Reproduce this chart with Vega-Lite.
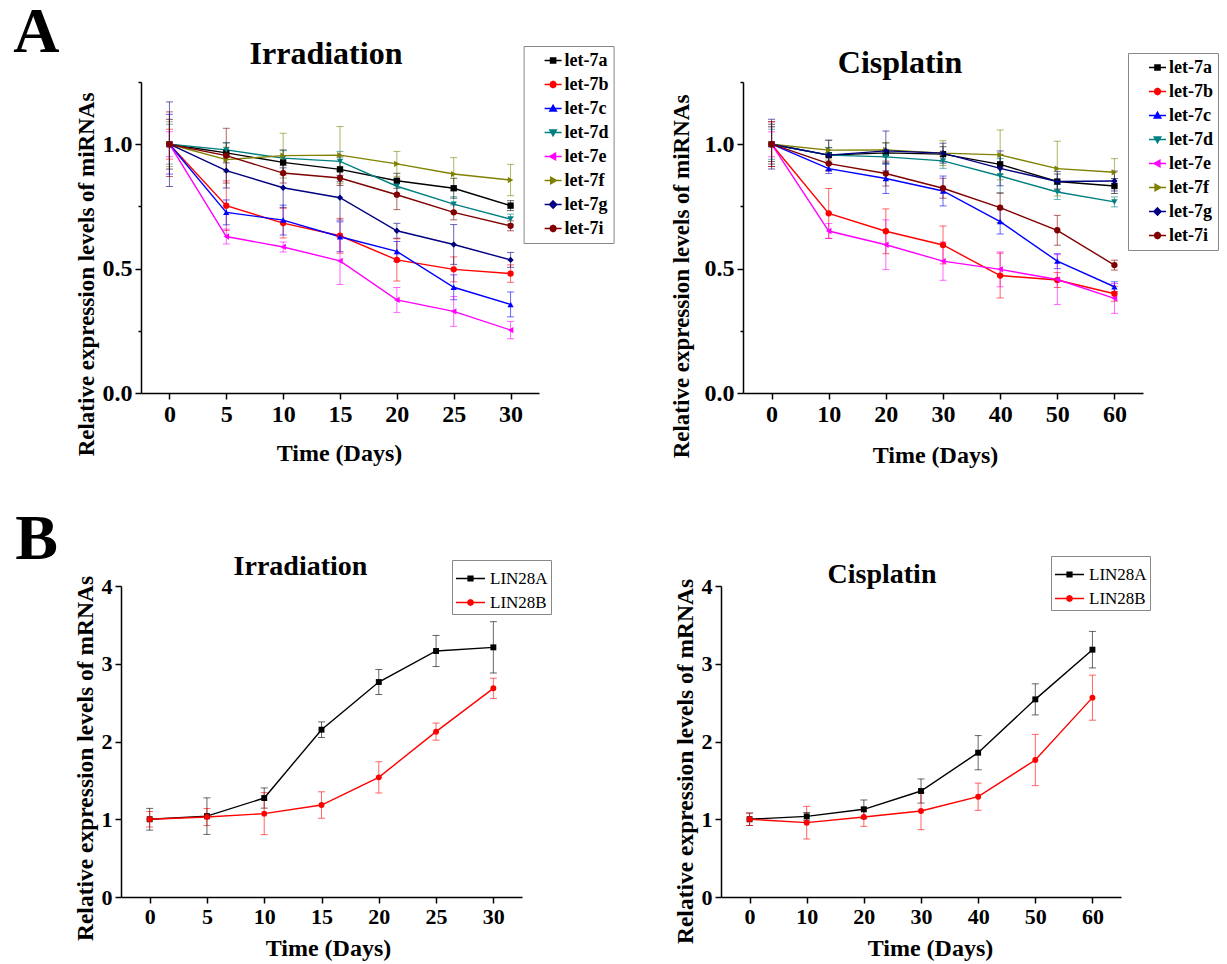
{
"$schema":"https://vega.github.io/schema/vega-lite/v6.json",
"background":"white",
"padding":{"left":13,"top":1,"right":5,"bottom":5},
"datasets":{
"irrMi":[
{"series":"let-7a","day":0,"value":1.0,"err":0.10},{"series":"let-7a","day":5,"value":0.965,"err":0.04},{"series":"let-7a","day":10,"value":0.927,"err":0.05},{"series":"let-7a","day":15,"value":0.899,"err":0.05},{"series":"let-7a","day":20,"value":0.853,"err":0.03},{"series":"let-7a","day":25,"value":0.823,"err":0.04},{"series":"let-7a","day":30,"value":0.753,"err":0.02},
{"series":"let-7b","day":0,"value":1.0,"err":0.06},{"series":"let-7b","day":5,"value":0.753,"err":0.10},{"series":"let-7b","day":10,"value":0.683,"err":0.06},{"series":"let-7b","day":15,"value":0.632,"err":0.07},{"series":"let-7b","day":20,"value":0.535,"err":0.085},{"series":"let-7b","day":25,"value":0.497,"err":0.05},{"series":"let-7b","day":30,"value":0.48,"err":0.035},
{"series":"let-7c","day":0,"value":1.0,"err":0.12},{"series":"let-7c","day":5,"value":0.726,"err":0.05},{"series":"let-7c","day":10,"value":0.695,"err":0.06},{"series":"let-7c","day":15,"value":0.628,"err":0.06},{"series":"let-7c","day":20,"value":0.569,"err":0.04},{"series":"let-7c","day":25,"value":0.425,"err":0.05},{"series":"let-7c","day":30,"value":0.356,"err":0.05},
{"series":"let-7d","day":0,"value":1.0,"err":0.08},{"series":"let-7d","day":5,"value":0.977,"err":0.03},{"series":"let-7d","day":10,"value":0.944,"err":0.03},{"series":"let-7d","day":15,"value":0.931,"err":0.04},{"series":"let-7d","day":20,"value":0.831,"err":0.03},{"series":"let-7d","day":25,"value":0.759,"err":0.03},{"series":"let-7d","day":30,"value":0.699,"err":0.02},
{"series":"let-7e","day":0,"value":1.0,"err":0.05},{"series":"let-7e","day":5,"value":0.629,"err":0.03},{"series":"let-7e","day":10,"value":0.587,"err":0.02},{"series":"let-7e","day":15,"value":0.531,"err":0.095},{"series":"let-7e","day":20,"value":0.374,"err":0.05},{"series":"let-7e","day":25,"value":0.328,"err":0.06},{"series":"let-7e","day":30,"value":0.253,"err":0.035},
{"series":"let-7f","day":0,"value":1.0,"err":0.09},{"series":"let-7f","day":5,"value":0.938,"err":0.05},{"series":"let-7f","day":10,"value":0.954,"err":0.09},{"series":"let-7f","day":15,"value":0.956,"err":0.115},{"series":"let-7f","day":20,"value":0.921,"err":0.05},{"series":"let-7f","day":25,"value":0.88,"err":0.066},{"series":"let-7f","day":30,"value":0.856,"err":0.063},
{"series":"let-7g","day":0,"value":1.0,"err":0.17},{"series":"let-7g","day":5,"value":0.894,"err":0.07},{"series":"let-7g","day":10,"value":0.825,"err":0.08},{"series":"let-7g","day":15,"value":0.785,"err":0.09},{"series":"let-7g","day":20,"value":0.652,"err":0.03},{"series":"let-7g","day":25,"value":0.597,"err":0.08},{"series":"let-7g","day":30,"value":0.535,"err":0.03},
{"series":"let-7i","day":0,"value":1.0,"err":0.13},{"series":"let-7i","day":5,"value":0.954,"err":0.11},{"series":"let-7i","day":10,"value":0.884,"err":0.04},{"series":"let-7i","day":15,"value":0.864,"err":0.03},{"series":"let-7i","day":20,"value":0.797,"err":0.06},{"series":"let-7i","day":25,"value":0.726,"err":0.03},{"series":"let-7i","day":30,"value":0.672,"err":0.02}
],
"cisMi":[
{"series":"let-7a","day":0,"value":1.0,"err":0.08},{"series":"let-7a","day":10,"value":0.956,"err":0.03},{"series":"let-7a","day":20,"value":0.965,"err":0.04},{"series":"let-7a","day":30,"value":0.96,"err":0.03},{"series":"let-7a","day":40,"value":0.919,"err":0.04},{"series":"let-7a","day":50,"value":0.85,"err":0.03},{"series":"let-7a","day":60,"value":0.832,"err":0.03},
{"series":"let-7b","day":0,"value":1.0,"err":0.09},{"series":"let-7b","day":10,"value":0.722,"err":0.10},{"series":"let-7b","day":20,"value":0.65,"err":0.09},{"series":"let-7b","day":30,"value":0.595,"err":0.076},{"series":"let-7b","day":40,"value":0.472,"err":0.09},{"series":"let-7b","day":50,"value":0.454,"err":0.03},{"series":"let-7b","day":60,"value":0.399,"err":0.03},
{"series":"let-7c","day":0,"value":1.0,"err":0.07},{"series":"let-7c","day":10,"value":0.902,"err":0.02},{"series":"let-7c","day":20,"value":0.862,"err":0.06},{"series":"let-7c","day":30,"value":0.812,"err":0.06},{"series":"let-7c","day":40,"value":0.689,"err":0.05},{"series":"let-7c","day":50,"value":0.53,"err":0.03},{"series":"let-7c","day":60,"value":0.427,"err":0.02},
{"series":"let-7d","day":0,"value":1.0,"err":0.06},{"series":"let-7d","day":10,"value":0.956,"err":0.03},{"series":"let-7d","day":20,"value":0.949,"err":0.03},{"series":"let-7d","day":30,"value":0.933,"err":0.03},{"series":"let-7d","day":40,"value":0.872,"err":0.07},{"series":"let-7d","day":50,"value":0.808,"err":0.03},{"series":"let-7d","day":60,"value":0.768,"err":0.02},
{"series":"let-7e","day":0,"value":1.0,"err":0.05},{"series":"let-7e","day":10,"value":0.651,"err":0.03},{"series":"let-7e","day":20,"value":0.596,"err":0.10},{"series":"let-7e","day":30,"value":0.53,"err":0.077},{"series":"let-7e","day":40,"value":0.497,"err":0.07},{"series":"let-7e","day":50,"value":0.456,"err":0.10},{"series":"let-7e","day":60,"value":0.38,"err":0.06},
{"series":"let-7f","day":0,"value":1.0,"err":0.07},{"series":"let-7f","day":10,"value":0.976,"err":0.04},{"series":"let-7f","day":20,"value":0.977,"err":0.03},{"series":"let-7f","day":30,"value":0.964,"err":0.05},{"series":"let-7f","day":40,"value":0.957,"err":0.10},{"series":"let-7f","day":50,"value":0.902,"err":0.11},{"series":"let-7f","day":60,"value":0.887,"err":0.055},
{"series":"let-7g","day":0,"value":1.0,"err":0.10},{"series":"let-7g","day":10,"value":0.956,"err":0.06},{"series":"let-7g","day":20,"value":0.973,"err":0.08},{"series":"let-7g","day":30,"value":0.964,"err":0.04},{"series":"let-7g","day":40,"value":0.903,"err":0.07},{"series":"let-7g","day":50,"value":0.85,"err":0.04},{"series":"let-7g","day":60,"value":0.852,"err":0.04},
{"series":"let-7i","day":0,"value":1.0,"err":0.09},{"series":"let-7i","day":10,"value":0.922,"err":0.03},{"series":"let-7i","day":20,"value":0.882,"err":0.05},{"series":"let-7i","day":30,"value":0.823,"err":0.04},{"series":"let-7i","day":40,"value":0.745,"err":0.06},{"series":"let-7i","day":50,"value":0.654,"err":0.06},{"series":"let-7i","day":60,"value":0.514,"err":0.02}
],
"irrLin":[
{"series":"LIN28A","day":0,"value":1.0,"err":0.14},{"series":"LIN28A","day":5,"value":1.04,"err":0.235},{"series":"LIN28A","day":10,"value":1.273,"err":0.13},{"series":"LIN28A","day":15,"value":2.152,"err":0.1},{"series":"LIN28A","day":20,"value":2.765,"err":0.16},{"series":"LIN28A","day":25,"value":3.164,"err":0.2},{"series":"LIN28A","day":30,"value":3.211,"err":0.33},
{"series":"LIN28B","day":0,"value":1.0,"err":0.1},{"series":"LIN28B","day":5,"value":1.029,"err":0.11},{"series":"LIN28B","day":10,"value":1.072,"err":0.27},{"series":"LIN28B","day":15,"value":1.183,"err":0.17},{"series":"LIN28B","day":20,"value":1.539,"err":0.2},{"series":"LIN28B","day":25,"value":2.127,"err":0.11},{"series":"LIN28B","day":30,"value":2.684,"err":0.13}
],
"cisLin":[
{"series":"LIN28A","day":0,"value":1.0,"err":0.08},{"series":"LIN28A","day":10,"value":1.037,"err":0.05},{"series":"LIN28A","day":20,"value":1.128,"err":0.12},{"series":"LIN28A","day":30,"value":1.363,"err":0.155},{"series":"LIN28A","day":40,"value":1.856,"err":0.22},{"series":"LIN28A","day":50,"value":2.542,"err":0.2},{"series":"LIN28A","day":60,"value":3.181,"err":0.235},
{"series":"LIN28B","day":0,"value":1.0,"err":0.08},{"series":"LIN28B","day":10,"value":0.956,"err":0.21},{"series":"LIN28B","day":20,"value":1.029,"err":0.12},{"series":"LIN28B","day":30,"value":1.106,"err":0.24},{"series":"LIN28B","day":40,"value":1.29,"err":0.175},{"series":"LIN28B","day":50,"value":1.762,"err":0.33},{"series":"LIN28B","day":60,"value":2.564,"err":0.29}
]
},
"vconcat":[
{
"title":{"text":"A","fontSize":64,"anchor":"start","frame":"group","dx":-107.7,"dy":78.6,"offset":0,"baseline":"alphabetic"},
"hconcat":[
{
"width":418,"height":311,
"data":{"name":"irrMi"},
"title":{"text":"Irradiation","fontSize":32,"anchor":"middle","frame":"group","dx":-4,"dy":50,"offset":0,"baseline":"alphabetic"},
"layer":[
{"mark":{"type":"errorbar","thickness":1,"rule":{"opacity":0.6},"ticks":{"size":7,"opacity":0.6}},
"encoding":{"x":{"field":"day","type":"quantitative","title":"Time (Days)"},"y":{"field":"value","type":"quantitative","title":"Relative expression levels of miRNAs"},"yError":{"field":"err"},
"color":{"field":"series","type":"nominal","scale":{"domain":["let-7a","let-7b","let-7c","let-7d","let-7e","let-7f","let-7g","let-7i"],"range":["#000000","#ff0000","#0000ff","#008080","#ff00ff","#808000","#000080","#800000"]}}}},
{"mark":{"type":"line","strokeWidth":1.4},
"encoding":{
"x":{"field":"day","type":"quantitative","title":"Time (Days)","scale":{"domain":[-2.5,32.5],"range":[20,418],"nice":false,"zero":false},
"axis":{"values":[0,2.5,5,7.5,10,12.5,15,17.5,20,22.5,25,27.5,30,32.5],"format":".0f","labelExpr":"datum.value % 5 === 0 ? datum.label : ''","tickSize":{"condition":{"test":"datum.value % 5 === 0","value":6},"value":3},"labelFontSize":24,"labelPadding":3,"labelOverlap":false,"titleFontSize":24,"titleX":218,"titleY":60,"titleAlign":"center","titleBaseline":"middle"}},
"y":{"field":"value","type":"quantitative","title":"Relative expression levels of miRNAs","scale":{"domain":[0,1.25],"nice":false,"zero":false},
"axis":{"values":[0,0.25,0.5,0.75,1,1.25],"format":".1f","labelExpr":"datum.value % 0.5 === 0 ? datum.label : ''","tickSize":{"condition":{"test":"datum.value % 0.5 === 0","value":6},"value":3},"labelFontSize":24,"labelPadding":3,"labelOverlap":false,"offset":-20,"titleFontSize":23,"titleAngle":270,"titleX":-55,"titleY":192,"titleAlign":"center","titleBaseline":"middle"}},
"color":{"field":"series","type":"nominal","scale":{"domain":["let-7a","let-7b","let-7c","let-7d","let-7e","let-7f","let-7g","let-7i"],"range":["#000000","#ff0000","#0000ff","#008080","#ff00ff","#808000","#000080","#800000"]},
"legend":{"orient":"none","legendX":402.6,"legendY":-36,"title":null,"labelFont":"Liberation Serif","labelFontWeight":"bold","labelFontSize":18,"labelColor":"#000000","symbolSize":289,"symbolStrokeWidth":1.5,"symbolOffset":15,"labelOffset":2,"padding":5,"rowPadding":5,"strokeColor":"#888888","fillColor":"#ffffff",
"encode":{"symbols":{"update":{
"shape":{"signal":"{'let-7a':'M-1,0H1M-0.3,-0.3H0.3V0.3H-0.3Z','let-7b':'M-1,0H1M0.36,0L0.25,0.25L0,0.36L-0.25,0.25L-0.36,0L-0.25,-0.25L0,-0.36L0.25,-0.25Z','let-7c':'M-1,0H1M0,-0.38L0.38,0.28L-0.38,0.28Z','let-7d':'M-1,0H1M0,0.38L0.38,-0.28L-0.38,-0.28Z','let-7e':'M-1,0H1M-0.38,0L0.28,-0.38L0.28,0.38Z','let-7f':'M-1,0H1M0.38,0L-0.28,-0.38L-0.28,0.38Z','let-7g':'M-1,0H1M0,-0.42L0.42,0L0,0.42L-0.42,0Z','let-7i':'M-1,0H1M0.36,0L0.25,0.25L0,0.36L-0.25,0.25L-0.36,0L-0.25,-0.25L0,-0.36L0.25,-0.25Z'}[datum.value]"},
"stroke":{"signal":"{'let-7a':'#000000','let-7b':'#ff0000','let-7c':'#0000ff','let-7d':'#008080','let-7e':'#ff00ff','let-7f':'#808000','let-7g':'#000080','let-7i':'#800000'}[datum.value]"},
"fill":{"signal":"{'let-7a':'#000000','let-7b':'#ff0000','let-7c':'#0000ff','let-7d':'#008080','let-7e':'#ff00ff','let-7f':'#808000','let-7g':'#000080','let-7i':'#800000'}[datum.value]"},
"strokeWidth":{"value":1.5},"opacity":{"value":1}}}}}}}},
{"mark":{"type":"point","filled":true,"size":40,"opacity":1},
"encoding":{"x":{"field":"day","type":"quantitative","title":"Time (Days)"},"y":{"field":"value","type":"quantitative","title":"Relative expression levels of miRNAs"},
"color":{"field":"series","type":"nominal","scale":{"domain":["let-7a","let-7b","let-7c","let-7d","let-7e","let-7f","let-7g","let-7i"],"range":["#000000","#ff0000","#0000ff","#008080","#ff00ff","#808000","#000080","#800000"]}},
"shape":{"field":"series","type":"nominal","scale":{"domain":["let-7i","let-7g","let-7f","let-7e","let-7d","let-7c","let-7b","let-7a"],"range":["circle","diamond","triangle-right","triangle-left","triangle-down","triangle-up","circle","square"]},"legend":null}}}
]
},
{
"width":400,"height":311,
"data":{"name":"cisMi"},
"title":{"text":"Cisplatin","fontSize":32,"anchor":"middle","frame":"group","dx":-43,"dy":52,"offset":0,"baseline":"alphabetic"},
"layer":[
{"mark":{"type":"errorbar","thickness":1,"rule":{"opacity":0.6},"ticks":{"size":7,"opacity":0.6}},
"encoding":{"x":{"field":"day","type":"quantitative","title":"Time (Days)"},"y":{"field":"value","type":"quantitative","title":"Relative expression levels of miRNAs"},"yError":{"field":"err"},
"color":{"field":"series","type":"nominal","scale":{"domain":["let-7a","let-7b","let-7c","let-7d","let-7e","let-7f","let-7g","let-7i"],"range":["#000000","#ff0000","#0000ff","#008080","#ff00ff","#808000","#000080","#800000"]}}}},
{"mark":{"type":"line","strokeWidth":1.4},
"encoding":{
"x":{"field":"day","type":"quantitative","title":"Time (Days)","scale":{"domain":[-5,65],"nice":false,"zero":false},
"axis":{"values":[0,5,10,15,20,25,30,35,40,45,50,55,60,65],"format":".0f","labelExpr":"datum.value % 10 === 0 ? datum.label : ''","tickSize":{"condition":{"test":"datum.value % 10 === 0","value":6},"value":3},"labelFontSize":24,"labelPadding":3,"labelOverlap":false,"titleFontSize":24,"titleX":192,"titleY":62,"titleAlign":"center","titleBaseline":"middle"}},
"y":{"field":"value","type":"quantitative","title":"Relative expression levels of miRNAs","scale":{"domain":[0,1.25],"nice":false,"zero":false},
"axis":{"values":[0,0.25,0.5,0.75,1,1.25],"format":".1f","labelExpr":"datum.value % 0.5 === 0 ? datum.label : ''","tickSize":{"condition":{"test":"datum.value % 0.5 === 0","value":6},"value":3},"labelFontSize":24,"labelPadding":3,"labelOverlap":false,"titleFontSize":23,"titleAngle":270,"titleX":-62,"titleY":194,"titleAlign":"center","titleBaseline":"middle"}},
"color":{"field":"series","type":"nominal","scale":{"domain":["let-7a","let-7b","let-7c","let-7d","let-7e","let-7f","let-7g","let-7i"],"range":["#000000","#ff0000","#0000ff","#008080","#ff00ff","#808000","#000080","#800000"]},
"legend":{"orient":"none","legendX":385,"legendY":-29,"title":null,"labelFont":"Liberation Serif","labelFontWeight":"bold","labelFontSize":18,"labelColor":"#000000","symbolSize":289,"symbolStrokeWidth":1.5,"symbolOffset":15,"labelOffset":2,"padding":5,"rowPadding":5,"strokeColor":"#888888","fillColor":"#ffffff",
"encode":{"symbols":{"update":{
"shape":{"signal":"{'let-7a':'M-1,0H1M-0.3,-0.3H0.3V0.3H-0.3Z','let-7b':'M-1,0H1M0.36,0L0.25,0.25L0,0.36L-0.25,0.25L-0.36,0L-0.25,-0.25L0,-0.36L0.25,-0.25Z','let-7c':'M-1,0H1M0,-0.38L0.38,0.28L-0.38,0.28Z','let-7d':'M-1,0H1M0,0.38L0.38,-0.28L-0.38,-0.28Z','let-7e':'M-1,0H1M-0.38,0L0.28,-0.38L0.28,0.38Z','let-7f':'M-1,0H1M0.38,0L-0.28,-0.38L-0.28,0.38Z','let-7g':'M-1,0H1M0,-0.42L0.42,0L0,0.42L-0.42,0Z','let-7i':'M-1,0H1M0.36,0L0.25,0.25L0,0.36L-0.25,0.25L-0.36,0L-0.25,-0.25L0,-0.36L0.25,-0.25Z'}[datum.value]"},
"stroke":{"signal":"{'let-7a':'#000000','let-7b':'#ff0000','let-7c':'#0000ff','let-7d':'#008080','let-7e':'#ff00ff','let-7f':'#808000','let-7g':'#000080','let-7i':'#800000'}[datum.value]"},
"fill":{"signal":"{'let-7a':'#000000','let-7b':'#ff0000','let-7c':'#0000ff','let-7d':'#008080','let-7e':'#ff00ff','let-7f':'#808000','let-7g':'#000080','let-7i':'#800000'}[datum.value]"},
"strokeWidth":{"value":1.5},"opacity":{"value":1}}}}}}}},
{"mark":{"type":"point","filled":true,"size":40,"opacity":1},
"encoding":{"x":{"field":"day","type":"quantitative","title":"Time (Days)"},"y":{"field":"value","type":"quantitative","title":"Relative expression levels of miRNAs"},
"color":{"field":"series","type":"nominal","scale":{"domain":["let-7a","let-7b","let-7c","let-7d","let-7e","let-7f","let-7g","let-7i"],"range":["#000000","#ff0000","#0000ff","#008080","#ff00ff","#808000","#000080","#800000"]}},
"shape":{"field":"series","type":"nominal","scale":{"domain":["let-7i","let-7g","let-7f","let-7e","let-7d","let-7c","let-7b","let-7a"],"range":["circle","diamond","triangle-right","triangle-left","triangle-down","triangle-up","circle","square"]},"legend":null}}}
]
}
],
"spacing":204,"bounds":"flush",
"resolve":{"scale":{"color":"independent","shape":"independent"},"legend":{"color":"independent","shape":"independent"}}
},
{
"title":{"text":"B","fontSize":64,"anchor":"start","frame":"group","dx":-105.7,"dy":69.4,"offset":0,"baseline":"alphabetic"},
"hconcat":[
{
"width":401,"height":311,
"data":{"name":"irrLin"},
"title":{"text":"Irradiation","fontSize":28,"anchor":"middle","frame":"group","dx":-21,"dy":43.7,"offset":0,"baseline":"alphabetic"},
"layer":[
{"mark":{"type":"errorbar","thickness":1,"rule":{"opacity":0.6},"ticks":{"size":7,"opacity":0.6}},
"encoding":{"x":{"field":"day","type":"quantitative","title":"Time (Days)"},"y":{"field":"value","type":"quantitative","title":"Relative expression levels of mRNAs"},"yError":{"field":"err"},
"color":{"field":"series","type":"nominal","scale":{"domain":["LIN28A","LIN28B"],"range":["#000000","#ff0000"]}}}},
{"mark":{"type":"line","strokeWidth":1.4},
"encoding":{
"x":{"field":"day","type":"quantitative","title":"Time (Days)","scale":{"domain":[-2.5,32.5],"nice":false,"zero":false},
"axis":{"values":[0,2.5,5,7.5,10,12.5,15,17.5,20,22.5,25,27.5,30,32.5],"format":".0f","labelExpr":"datum.value % 5 === 0 ? datum.label : ''","tickSize":{"condition":{"test":"datum.value % 5 === 0","value":6},"value":3},"labelFontSize":22,"labelPadding":3,"labelOverlap":false,"titleFontSize":24,"titleX":207,"titleY":51,"titleAlign":"center","titleBaseline":"middle"}},
"y":{"field":"value","type":"quantitative","title":"Relative expression levels of mRNAs","scale":{"domain":[0,4],"nice":false,"zero":false},
"axis":{"values":[0,0.5,1,1.5,2,2.5,3,3.5,4],"format":".0f","labelExpr":"datum.value % 1 === 0 ? datum.label : ''","tickSize":{"condition":{"test":"datum.value % 1 === 0","value":6},"value":3},"labelFontSize":22,"labelPadding":3,"labelOverlap":false,"titleFontSize":23.5,"titleAngle":270,"titleX":-36,"titleY":172,"titleAlign":"center","titleBaseline":"middle"}},
"color":{"field":"series","type":"nominal","scale":{"domain":["LIN28A","LIN28B"],"range":["#000000","#ff0000"]},
"legend":{"orient":"none","legendX":331,"legendY":-26,"title":null,"labelFont":"Liberation Serif","labelFontWeight":"normal","labelFontSize":17,"labelColor":"#000000","symbolSize":841,"symbolStrokeWidth":1.3,"symbolOffset":0,"labelOffset":4,"padding":3,"rowPadding":0,"strokeColor":"#888888","fillColor":"#ffffff",
"encode":{"symbols":{"update":{
"shape":{"signal":"{'LIN28A':'M-1,0H1M-0.17,-0.17H0.17V0.17H-0.17Z','LIN28B':'M-1,0H1M0.2,0L0.14,0.14L0,0.2L-0.14,0.14L-0.2,0L-0.14,-0.14L0,-0.2L0.14,-0.14Z'}[datum.value]"},
"stroke":{"signal":"{'LIN28A':'#000000','LIN28B':'#ff0000'}[datum.value]"},
"fill":{"signal":"{'LIN28A':'#000000','LIN28B':'#ff0000'}[datum.value]"},
"strokeWidth":{"value":1.3},"opacity":{"value":1}}}}}}}},
{"mark":{"type":"point","filled":true,"size":35,"opacity":1},
"encoding":{"x":{"field":"day","type":"quantitative","title":"Time (Days)"},"y":{"field":"value","type":"quantitative","title":"Relative expression levels of mRNAs"},
"color":{"field":"series","type":"nominal","scale":{"domain":["LIN28A","LIN28B"],"range":["#000000","#ff0000"]}},
"shape":{"field":"series","type":"nominal","scale":{"domain":["LIN28B","LIN28A"],"range":["circle","square"]},"legend":null}}}
]
},
{
"width":400,"height":311,
"data":{"name":"cisLin"},
"title":{"text":"Cisplatin","fontSize":28,"anchor":"middle","frame":"group","dx":-39,"dy":55,"offset":0,"baseline":"alphabetic"},
"layer":[
{"mark":{"type":"errorbar","thickness":1,"rule":{"opacity":0.6},"ticks":{"size":7,"opacity":0.6}},
"encoding":{"x":{"field":"day","type":"quantitative","title":"Time (Days)"},"y":{"field":"value","type":"quantitative","title":"Relative expression levels of mRNAs"},"yError":{"field":"err"},
"color":{"field":"series","type":"nominal","scale":{"domain":["LIN28A","LIN28B"],"range":["#000000","#ff0000"]}}}},
{"mark":{"type":"line","strokeWidth":1.4},
"encoding":{
"x":{"field":"day","type":"quantitative","title":"Time (Days)","scale":{"domain":[-5,65],"nice":false,"zero":false},
"axis":{"values":[0,5,10,15,20,25,30,35,40,45,50,55,60,65],"format":".0f","labelExpr":"datum.value % 10 === 0 ? datum.label : ''","tickSize":{"condition":{"test":"datum.value % 10 === 0","value":6},"value":3},"labelFontSize":22,"labelPadding":3,"labelOverlap":false,"titleFontSize":24,"titleX":209,"titleY":51,"titleAlign":"center","titleBaseline":"middle"}},
"y":{"field":"value","type":"quantitative","title":"Relative expression levels of mRNAs","scale":{"domain":[0,4],"nice":false,"zero":false},
"axis":{"values":[0,0.5,1,1.5,2,2.5,3,3.5,4],"format":".0f","labelExpr":"datum.value % 1 === 0 ? datum.label : ''","tickSize":{"condition":{"test":"datum.value % 1 === 0","value":6},"value":3},"labelFontSize":22,"labelPadding":3,"labelOverlap":false,"titleFontSize":23.5,"titleAngle":270,"titleX":-36,"titleY":175,"titleAlign":"center","titleBaseline":"middle"}},
"color":{"field":"series","type":"nominal","scale":{"domain":["LIN28A","LIN28B"],"range":["#000000","#ff0000"]},
"legend":{"orient":"none","legendX":330,"legendY":-30,"title":null,"labelFont":"Liberation Serif","labelFontWeight":"normal","labelFontSize":17,"labelColor":"#000000","symbolSize":841,"symbolStrokeWidth":1.3,"symbolOffset":0,"labelOffset":4,"padding":3,"rowPadding":0,"strokeColor":"#888888","fillColor":"#ffffff",
"encode":{"symbols":{"update":{
"shape":{"signal":"{'LIN28A':'M-1,0H1M-0.17,-0.17H0.17V0.17H-0.17Z','LIN28B':'M-1,0H1M0.2,0L0.14,0.14L0,0.2L-0.14,0.14L-0.2,0L-0.14,-0.14L0,-0.2L0.14,-0.14Z'}[datum.value]"},
"stroke":{"signal":"{'LIN28A':'#000000','LIN28B':'#ff0000'}[datum.value]"},
"fill":{"signal":"{'LIN28A':'#000000','LIN28B':'#ff0000'}[datum.value]"},
"strokeWidth":{"value":1.3},"opacity":{"value":1}}}}}}}},
{"mark":{"type":"point","filled":true,"size":35,"opacity":1},
"encoding":{"x":{"field":"day","type":"quantitative","title":"Time (Days)"},"y":{"field":"value","type":"quantitative","title":"Relative expression levels of mRNAs"},
"color":{"field":"series","type":"nominal","scale":{"domain":["LIN28A","LIN28B"],"range":["#000000","#ff0000"]}},
"shape":{"field":"series","type":"nominal","scale":{"domain":["LIN28B","LIN28A"],"range":["circle","square"]},"legend":null}}}
]
}
],
"spacing":199,"bounds":"flush",
"resolve":{"scale":{"color":"independent","shape":"independent"},"legend":{"color":"independent","shape":"independent"}}
}
],
"spacing":504,"bounds":"flush",
"resolve":{"scale":{"color":"independent","shape":"independent"},"legend":{"color":"independent","shape":"independent"}},
"config":{
"view":{"stroke":null},
"font":"Liberation Serif",
"axis":{"domainColor":"#000000","tickColor":"#000000","labelColor":"#000000","titleColor":"#000000","domainWidth":1.5,"tickWidth":1.5,"grid":false,"labelFont":"Liberation Serif","labelFontWeight":"bold","titleFont":"Liberation Serif","titleFontWeight":"bold"},
"title":{"font":"Liberation Serif","fontWeight":"bold","color":"#000000"}
}
}
